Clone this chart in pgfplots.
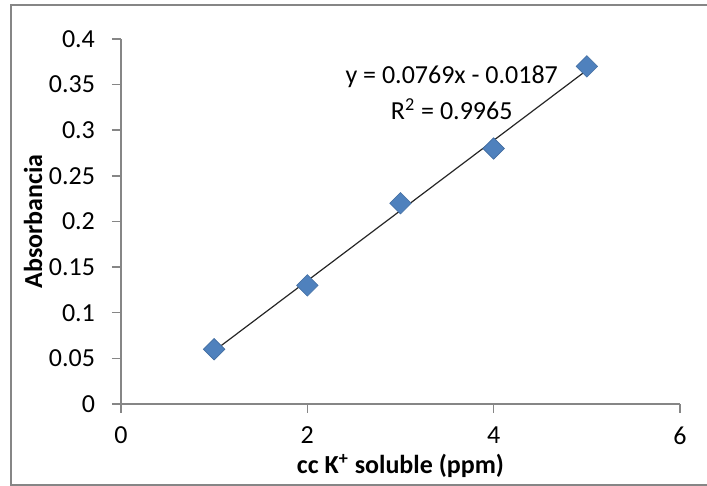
\documentclass[border=0pt]{standalone}
\usepackage{fontspec}
\setmainfont{Carlito}
\usepackage{pgfplots}
\pgfplotsset{compat=1.18}
\definecolor{axgray}{HTML}{868686}
\definecolor{mblue}{HTML}{4F81BD}
\begin{document}
\fontsize{13pt}{15.6pt}\selectfont
\begin{tikzpicture}
\useasboundingbox (0,0) rectangle (353.5pt,243pt);
\draw[axgray, line width=1pt] (5.5pt,0.5pt) rectangle (362pt,240.5pt);
\begin{axis}[
  at={(60.5pt,41pt)}, anchor=south west,
  scale only axis, width=279.5pt, height=182.5pt,
  xmin=0, xmax=6, ymin=0, ymax=0.4,
  xtick={0,2,4,6},
  ytick={0,0.05,0.1,0.15,0.2,0.25,0.3,0.35,0.4},
  axis x line=bottom, axis y line=left,
  axis line style={axgray, line width=0.75pt, -},
  tick style={axgray, line width=0.75pt},
  tick align=outside, major tick length=4.5pt,
  /pgf/number format/.cd, fixed, precision=2, assume math mode=true, /pgfplots/.cd,
  ticklabel style={font=\fontsize{13pt}{15.6pt}\selectfont, text=black},
  yticklabel style={xshift=-4pt},
  xticklabel style={yshift=-2.5pt},
  xlabel={\textbf{cc K\textsuperscript{+} soluble (ppm)}},
  ylabel={\textbf{Absorbancia}},
  xlabel style={at={(axis description cs:0.5,-0.170)}, anchor=center},
  ylabel style={at={(axis description cs:-0.1574,0.5)}, anchor=center},
]
\addplot[only marks, mark=square*, mark size=3.8pt, mark options={rotate=45, fill=mblue, draw=mblue!85!black, line width=0.3pt}]
  coordinates {(1,0.06) (2,0.13) (3,0.22) (4,0.28) (5,0.37)};
\addplot[no marks, color=black!85, line width=0.6pt] coordinates {(1,0.0582) (5,0.3658)};
\node[align=center] at (axis cs:3.55,0.3584) {y = 0.0769x - 0.0187};
\node[align=center] at (axis cs:3.55,0.3230) {R\textsuperscript{2} = 0.9965};
\end{axis}
\end{tikzpicture}
\end{document}
